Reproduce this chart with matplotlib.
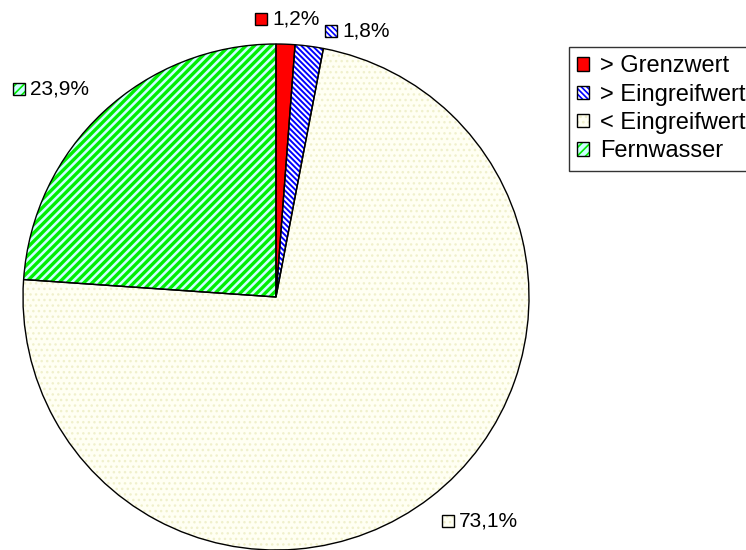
import matplotlib
matplotlib.use('Agg')
import matplotlib.pyplot as plt
from matplotlib.patches import Rectangle
from matplotlib.legend_handler import HandlerTuple

plt.rcParams['font.family'] = ['Liberation Sans', 'DejaVu Sans']

categories = ['> Grenzwert', '> Eingreifwert', '< Eingreifwert', 'Fernwasser']
shares = [1.2, 1.8, 73.1, 23.9]
labels = ['1,2%', '1,8%', '73,1%', '23,9%']

# colour, hatch, hatch colour, hatch width per slice
faces = ['#ff0000', '#ffffff', '#fffff3', '#ccffff']
hatches = [None, '\\\\\\\\\\\\', '...', '////']
hatch_cols = ['#ff0000', '#0000ff', '#f0f0cc', '#00ee00']
hatch_lw = [1.0, 1.4, 1.0, 2.4]

# label anchor (square left edge, pixel x, pixel y from top)
label_pos = [(255, 19), (325, 31), (442, 521), (13, 89)]

W, H = 746, 550
fig = plt.figure(figsize=(W / 100, H / 100), dpi=100)


def hatched(xy, w, h, fc, hatch, hc, hlw, **kw):
    plt.rcParams['hatch.linewidth'] = hlw
    p = Rectangle(xy, w, h, facecolor=fc, edgecolor=hc, hatch=hatch, linewidth=0, **kw)
    if hasattr(p, 'set_hatch_linewidth'):
        p.set_hatch_linewidth(hlw)
    return p


cx, cy, R = 276, 297, 253
ax = fig.add_axes([(cx - R) / W, (H - cy - R) / H, 2 * R / W, 2 * R / H])

wedges, _ = ax.pie(shares, startangle=90, counterclock=False, radius=1,
                   colors=faces, wedgeprops=dict(linewidth=0))
for w, h, hc, hlw in zip(wedges, hatches, hatch_cols, hatch_lw):
    w.set_edgecolor(hc)
    if h:
        w.set_hatch(h)
        if hasattr(w, 'set_hatch_linewidth'):
            w.set_hatch_linewidth(hlw)
ax.pie(shares, startangle=90, counterclock=False, radius=1,
       colors=['none'] * 4,
       wedgeprops=dict(linewidth=1.0, edgecolor='black', fill=False))
ax.set_xlim(-1, 1)
ax.set_ylim(-1, 1)
ax.set_aspect('equal')
ax.axis('off')

# labels with small hatched squares
s = 12
for (px, py), lab, fc, h, hc, hlw in zip(label_pos, labels, faces, hatches, hatch_cols, hatch_lw):
    x0 = px / W
    y0 = (H - py - s / 2) / H
    r1 = hatched((x0, y0), s / W, s / H, fc, h, hc, min(hlw, 1.2),
                 transform=fig.transFigure)
    r2 = Rectangle((x0, y0), s / W, s / H, transform=fig.transFigure,
                   fill=False, edgecolor='black', linewidth=1.0)
    fig.patches.extend([r1, r2])
    fig.text((px + s + 5) / W, (H - py) / H, lab, fontsize=15,
             ha='left', va='center')

# legend (runs off the right edge, as in the original)
handles = []
for fc, h, hc, hlw in zip(faces, hatches, hatch_cols, hatch_lw):
    p1 = hatched((0, 0), 1, 1, fc, h, hc, min(hlw, 1.2))
    p2 = Rectangle((0, 0), 1, 1, fill=False, edgecolor='black', linewidth=1.0)
    handles.append((p1, p2))
leg = fig.legend(handles, categories, loc='upper left',
                 bbox_to_anchor=(569 / W, 1 - 47 / H),
                 handler_map={tuple: HandlerTuple(ndivide=1)},
                 fontsize=17, frameon=True, fancybox=False, shadow=False,
                 handlelength=0.5, handleheight=0.5, handletextpad=0.45,
                 labelspacing=0.27, borderpad=0.35, borderaxespad=0)
leg.get_frame().set_edgecolor('black')
leg.get_frame().set_linewidth(1.0)

fig.savefig('out.png', dpi=100)
